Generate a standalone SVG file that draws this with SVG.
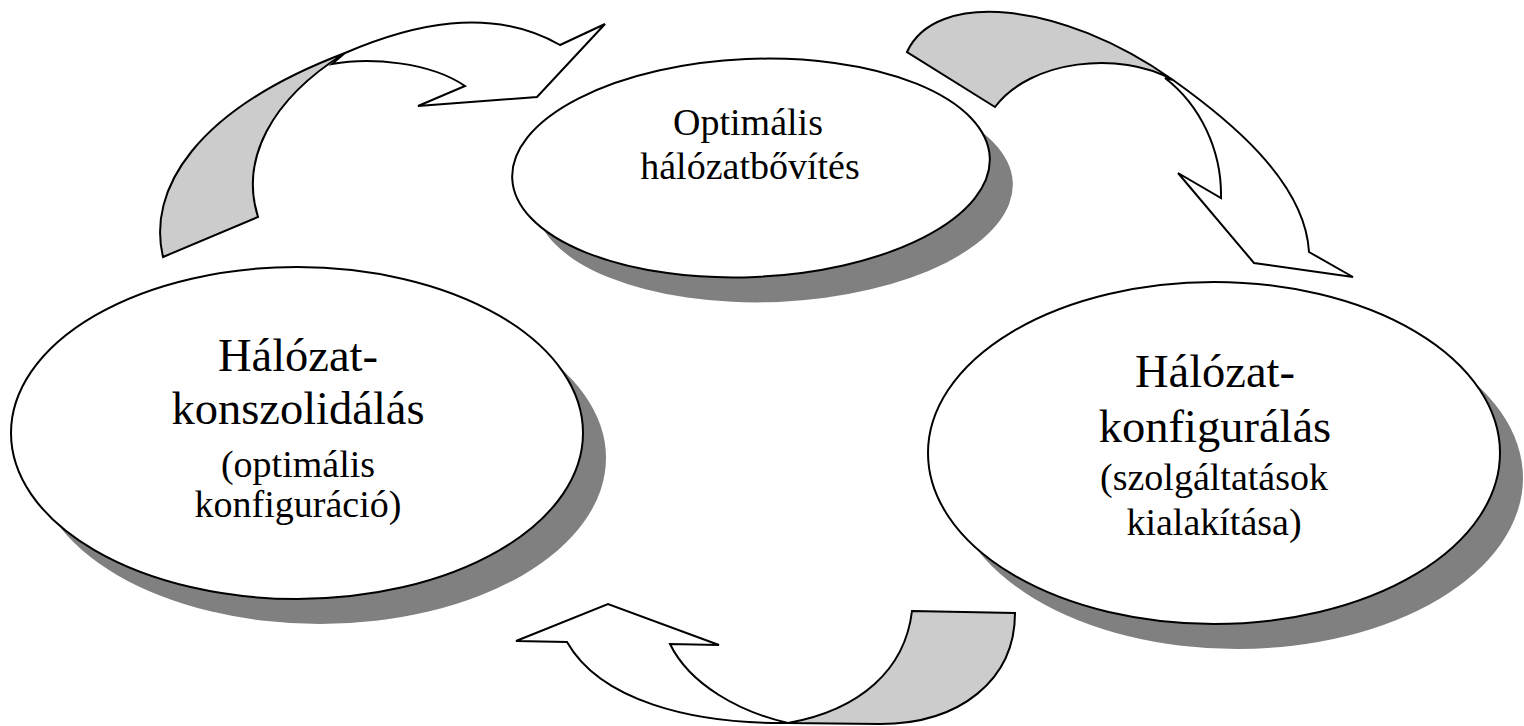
<svg xmlns="http://www.w3.org/2000/svg" width="1524" height="726" viewBox="0 0 1524 726">
  <style>
    .shadow { fill: #808080; stroke: none; }
    .node { fill: #ffffff; stroke: #000000; stroke-width: 2; }
    .back { fill: #cccccc; stroke: #000000; stroke-width: 2; stroke-linejoin: miter; }
    .front { fill: #ffffff; stroke: #000000; stroke-width: 2; stroke-linejoin: miter; }
    text { font-family: "Liberation Serif", "Times New Roman", serif; fill: #000000; text-anchor: middle; }
    .big { font-size: 46.5px; }
    .small { font-size: 38px; }
  </style>
  <rect width="1524" height="726" fill="#ffffff"/>

  <!-- cycle nodes -->
  <g id="node-bovites">
    <ellipse class="shadow" cx="774" cy="193" rx="239" ry="109" transform="rotate(-2.5 774 193)"/>
    <ellipse class="node" cx="751" cy="168" rx="239" ry="109" transform="rotate(-2.5 751 168)"/>
    <text class="small" x="748" y="135">Optimális</text>
    <text class="small" x="750" y="179">hálózatbővítés</text>
  </g>

  <g id="node-konszolidalas">
    <ellipse class="shadow" cx="320" cy="458" rx="286" ry="166"/>
    <ellipse class="node" cx="297" cy="433" rx="286" ry="166"/>
    <text class="big" x="298" y="371">Hálózat-</text>
    <text class="big" x="298" y="424">konszolidálás</text>
    <text class="small" x="298" y="477">(optimális</text>
    <text class="small" x="298" y="517">konfiguráció)</text>
  </g>

  <g id="node-konfiguralas">
    <ellipse class="shadow" cx="1237" cy="478" rx="286" ry="171"/>
    <ellipse class="node" cx="1214" cy="453" rx="286" ry="171"/>
    <text class="big" x="1215" y="387">Hálózat-</text>
    <text class="big" x="1215" y="442">konfigurálás</text>
    <text class="small" x="1214" y="490">(szolgáltatások</text>
    <text class="small" x="1214" y="535">kialakítása)</text>
  </g>

  <!-- curved block arrows: grey back of the ribbon, white front with head -->
  <g id="connectors">
    <g id="arrow-top-left">
      <path class="back" d="M163,257 C147,190 195,110 345,53 C270,100 240,160 258,217 Z"/>
      <path class="front" d="M345,53 C410,25 490,5 560,45 L605,24 L537,97 L418,106 L465,86 C430,62 370,57 332,64 Z"/>
    </g>
    <g id="arrow-top-right">
      <path class="back" d="M907,52 C935,-10 1060,0 1173,80 C1120,50 1030,60 995,107 Z"/>
      <path class="front" d="M1173,80 C1225,117 1305,180 1309,252 L1353,277 L1254,263 L1178,173 L1221,198 C1222,150 1200,105 1165,78 Z"/>
    </g>
    <g id="arrow-bottom">
      <path class="back" d="M912,611 L1015,613 C1015,680 960,724 880,724 L788,723 C860,710 905,670 912,611 Z"/>
      <path class="front" d="M788,723 C690,724 600,700 567,642 L516,641 L608,604 L719,645 L670,644 C690,685 740,712 788,723 Z"/>
    </g>
  </g>
</svg>
